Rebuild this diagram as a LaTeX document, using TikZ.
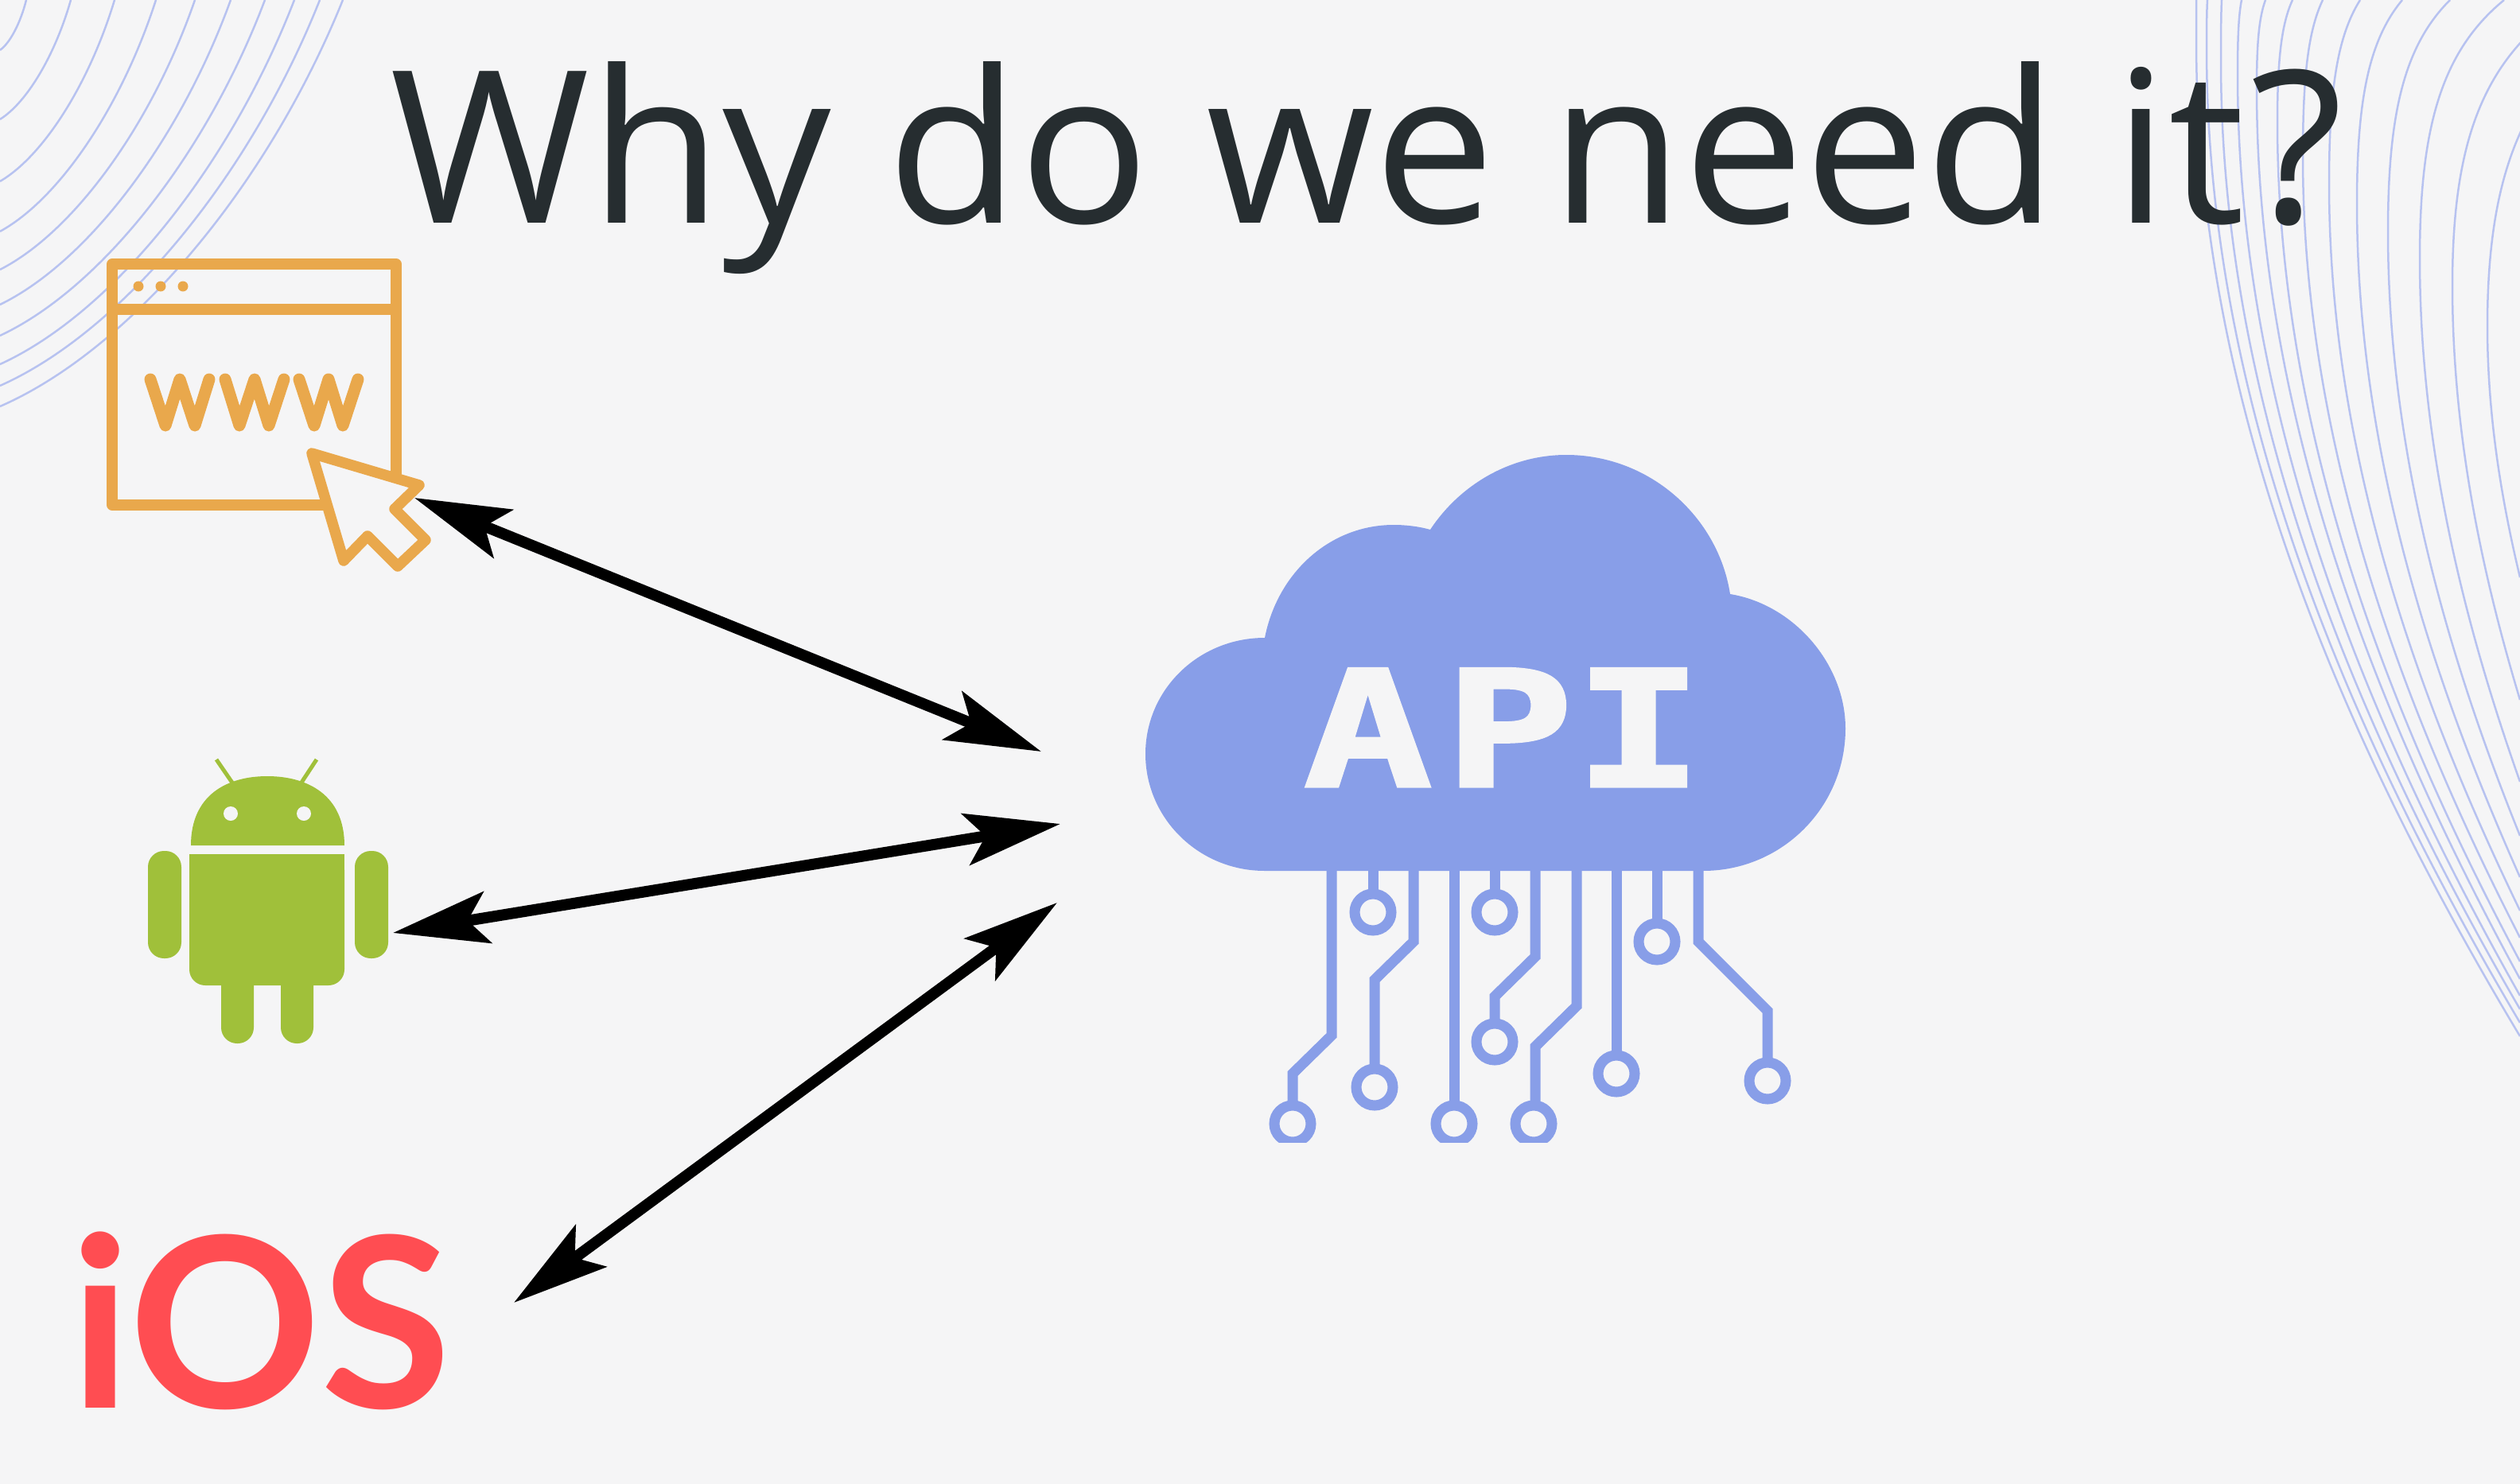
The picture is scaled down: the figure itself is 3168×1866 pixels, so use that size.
\documentclass[tikz,border=0pt]{standalone}
\usepackage{fontspec}
\usepackage{tikz}
\usetikzlibrary{arrows.meta}
\newfontfamily\titlefont{Open Sans}
\newfontfamily\apifont[BoldFeatures={FakeBold=1.5}]{DejaVu Sans Mono}
\newfontfamily\iosfont{Lato}
\definecolor{pagegray}{HTML}{F5F5F6}
\definecolor{inkdark}{HTML}{262D30}
\definecolor{wavyblue}{HTML}{B7C2F0}
\definecolor{cloudblue}{HTML}{889EE8}
\definecolor{webyellow}{HTML}{E9A84C}
\definecolor{robotgreen}{HTML}{A0C03A}
\definecolor{iosred}{HTML}{FF4D52}
\tikzset{%
	wave line/.style={
		draw=wavyblue,
		line width=0.025cm
	},
	web line/.style={
		draw=webyellow,
		line width=0.135cm,
		line join=round,
		line cap=round
	},
	web letter/.style={
		web line,
		line width=0.15cm
	},
	trace line/.style={
		draw=cloudblue,
		line width=0.13cm,
		line join=miter
	},
	trace ring/.style={
		draw=cloudblue,
		line width=0.13cm,
		fill=pagegray
	},
	both way/.style={
		line width=0.14cm,
		{Stealth[length=1.2cm,width=0.65cm,inset=0.25cm]}-{Stealth[length=1.2cm,width=0.65cm,inset=0.25cm]}
	},
}

\begin{document}
\begin{tikzpicture}[x=0.01cm,y=-0.01cm]
	\useasboundingbox (0,0) rectangle (3168,1866);
	\fill[pagegray] (0,0) rectangle (3168,1866);

	% Draw the arcs in the top left corner
	\foreach \xt/\yl in {33/63,89/150,144/228,196/291,245/339,290/383,333/422,370/458,402/485,431/511}
		\draw[wave line] (\xt,0) .. controls (\xt*0.78,\yl*0.46) and (\xt*0.38,\yl*0.86) .. (0,\yl);

	% Draw the curves on the right
	\foreach \xt/\xl/\yl/\ye in {2761/2761/51/1303,2775/2774/60/1286,2793/2792/77/1269,2818/2813/94/1252,2848/2837/111/1231,2882/2863/154/1209,2920/2895/197/1179,2967/2928/231/1145,3020/2963/256/1103,3080/3002/291/1051,3148/3042/325/983,3233/3083/359/880,3333/3127/410/726}
		\draw[wave line] (\xt,0) .. controls ({\xl+0.25*(\xt-\xl)},{0.2*\yl}) and (\xl,{0.5*\yl}) .. (\xl,\yl)
			.. controls (\xl,{\yl+0.37*(\ye-\yl)}) and ({\xl+0.465*(3168-\xl)},{\yl+0.71*(\ye-\yl)}) .. (3168,\ye);

	% Draw the title
	\node[anchor=base west,inner sep=0pt,text=inkdark,xscale=1.015,font=\titlefont\fontsize{76}{90}\selectfont] (title) at (490,280) {Why do we need it\kern2pt?};

	% Draw the browser window
	\draw[web line] (141,332) rectangle (498,635);
	\draw[web line] (141,389) -- (498,389);
	\fill[webyellow] (174,360) circle (6.5);
	\fill[webyellow] (202,360) circle (6.5);
	\fill[webyellow] (230,360) circle (6.5);
	\draw[web letter] (189,477) -- (208,535) -- (226,477) -- (245,535) -- (263,477);
	\draw[web letter] (283,477) -- (301,535) -- (320,477) -- (338,535) -- (357,477);
	\draw[web letter] (376,477) -- (395,535) -- (413,477) -- (431,535) -- (450,477);
	\draw[web line,fill=pagegray] (392,570) -- (527,610) -- (496,640) -- (535,679) -- (500,712) -- (462,674) -- (432,705) -- cycle;

	% Draw the android robot
	\draw[robotgreen,line width=0.05cm] (296,990) -- (272,955);
	\draw[robotgreen,line width=0.05cm] (375,990) -- (398,955);
	\fill[robotgreen] (240,1063) .. controls (240,1000) and (285,976) .. (336,976) .. controls (387,976) and (433,1000) .. (433,1063) -- cycle;
	\fill[robotgreen,rounded corners=0.2cm] (238,1074) rectangle (433,1239);
	\fill[robotgreen] (238,1074) rectangle (433,1120);
	\fill[robotgreen,rounded corners=0.2cm] (186,1070) rectangle (228,1205);
	\fill[robotgreen,rounded corners=0.2cm] (446,1070) rectangle (488,1205);
	\fill[robotgreen,rounded corners=0.2cm] (278,1200) rectangle (319,1312);
	\fill[robotgreen,rounded corners=0.2cm] (353,1200) rectangle (394,1312);
	\fill[pagegray] (290,1023) circle (9);
	\fill[pagegray] (382,1023) circle (9);

	% Draw the iOS label
	\node[anchor=base west,inner sep=0pt,text=iosred,font=\iosfont\bfseries\fontsize{85}{90}\selectfont] (ios) at (88,1770) {iOS};

	% Draw the cloud
	\fill[cloudblue] (1590,1095) .. controls (1507,1095) and (1440,1029) .. (1440,948)
		.. controls (1440,867) and (1507,802) .. (1590,802)
		.. controls (1606,720) and (1672,660) .. (1752,660)
		.. controls (1768,660) and (1784,662) .. (1798,666)
		.. controls (1835,610) and (1898,572) .. (1969,572)
		.. controls (2074,572) and (2160,650) .. (2175,747)
		.. controls (2255,760) and (2320,835) .. (2320,916)
		.. controls (2320,1015) and (2240,1095) .. (2141,1095) -- cycle;
	\node[anchor=base,inner sep=0pt,text=pagegray,xscale=1.33,font=\apifont\bfseries\fontsize{58}{60}\selectfont] (api) at (1890,989) {A\kern3pt PI};

	% Draw the circuit under the cloud
	\begin{scope}
		\clip (1500,1090) rectangle (2400,1436);
		\draw[trace line] (1674,1090) -- (1674,1302) -- (1625,1350) -- (1625,1390);
		\draw[trace line] (1726,1090) -- (1726,1125);
		\draw[trace line] (1777,1090) -- (1777,1184) -- (1728,1232) -- (1728,1345);
		\draw[trace line] (1828,1090) -- (1828,1390);
		\draw[trace line] (1879,1090) -- (1879,1125);
		\draw[trace line] (1930,1090) -- (1930,1203) -- (1879,1253) -- (1879,1290);
		\draw[trace line] (1982,1090) -- (1982,1265) -- (1930,1316) -- (1930,1390);
		\draw[trace line] (2032,1090) -- (2032,1330);
		\draw[trace line] (2083,1090) -- (2083,1165);
		\draw[trace line] (2135,1090) -- (2135,1184) -- (2222,1271) -- (2222,1340);
		\draw[trace ring] (1625,1413) circle (23);
		\draw[trace ring] (1726,1147) circle (23);
		\draw[trace ring] (1728,1367) circle (23);
		\draw[trace ring] (1828,1413) circle (23);
		\draw[trace ring] (1879,1147) circle (23);
		\draw[trace ring] (1879,1310) circle (23);
		\draw[trace ring] (1928,1413) circle (23);
		\draw[trace ring] (2032,1350) circle (23);
		\draw[trace ring] (2083,1184) circle (23);
		\draw[trace ring] (2222,1359) circle (23);
	\end{scope}

	% Draw the arrows between the clients and the cloud
	\coordinate (webEnd) at (521,626);
	\coordinate (robotEnd) at (494,1173);
	\coordinate (iosEnd) at (646,1638);
	\coordinate (cloudTop) at (1309,945);
	\coordinate (cloudMid) at (1333,1036);
	\coordinate (cloudLow) at (1329,1135);
	\draw[both way] (webEnd) -- (cloudTop);
	\draw[both way] (robotEnd) -- (cloudMid);
	\draw[both way] (iosEnd) -- (cloudLow);
\end{tikzpicture}
\end{document}
